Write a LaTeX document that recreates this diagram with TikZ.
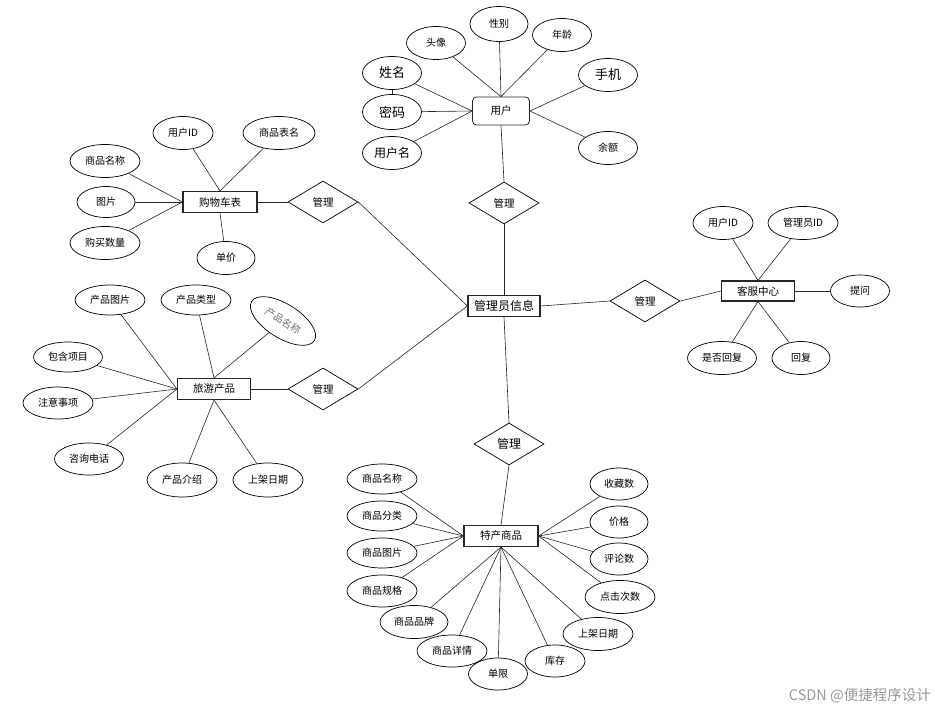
\documentclass[tikz,border=0pt]{standalone}
\usepackage{fontspec}
\newfontfamily\cjk{Noto Sans CJK SC}
\usetikzlibrary{shapes.geometric}
\tikzset{
  attr/.style={ellipse, draw=black, line width=0.7pt, minimum width=59pt, minimum height=33pt, inner sep=0pt, font=\cjk\fontsize{10}{12}\selectfont},
  wattr/.style={attr, minimum width=70pt},
  ent/.style={rectangle, draw=black!85, line width=1.1pt, minimum height=21pt, inner sep=0pt, font=\cjk\fontsize{10.5}{12}\selectfont},
  rel/.style={diamond, draw=black, line width=0.7pt, aspect=1.7, minimum width=70pt, minimum height=42pt, inner sep=0pt, font=\cjk\fontsize{10.5}{12}\selectfont},
  con/.style={draw=black!85, line width=0.6pt}
}
\begin{document}
\begin{tikzpicture}[x=1pt,y=-1pt]
\useasboundingbox[fill=white] (0,0) rectangle (935,712);

% ---------- center ----------
\node[ent, minimum width=72pt, line width=1.2pt, font=\cjk\fontsize{12}{14}\selectfont] (admin) at (504,306) {管理员信息};
\node[rel] (dtop) at (504,203) {管理};
\node[rel] (dcart) at (323,202) {管理};
\node[rel] (dtrav) at (323,389) {管理};
\node[rel, font=\cjk\fontsize{12}{14}\selectfont] (dbot) at (509,444) {管理};
\node[rel] (dsvc) at (645,301) {管理};

% ---------- user ----------
\node[ent, rounded corners=4pt, minimum width=57pt, minimum height=28pt, line width=0.8pt] (user) at (501,111) {用户};
\node[attr, minimum width=58pt, minimum height=35pt] (xb) at (499,24) {性别};
\node[attr] (tx) at (436,43) {头像};
\node[attr] (nl) at (562,35) {年龄};
\node[attr, font=\cjk\fontsize{13}{15}\selectfont] (xm) at (392,73) {姓名};
\node[attr, minimum height=35pt, font=\cjk\fontsize{13}{15}\selectfont] (mm) at (392,112) {密码};
\node[attr, font=\cjk\fontsize{12}{14}\selectfont] (yhm) at (392,153) {用户名};
\node[attr, font=\cjk\fontsize{13}{15}\selectfont] (sj) at (608,75) {手机};
\node[attr] (ye) at (608,148) {余额};
\draw[con] (tx) -- (user.north);
\draw[con] (xb) -- (user.north);
\draw[con] (nl) -- (user.north);
\draw[con] (xm) -- (user.west);
\draw[con] (mm) -- (user.west);
\draw[con] (yhm) -- (user.west);
\draw[con] (xm) -- (mm);
\draw[con] (sj) -- (user.east);
\draw[con] (ye) -- (user.east);
\draw[con] (user.south) -- (dtop.north);

% ---------- cart ----------
\node[ent, minimum width=74pt] (cart) at (220,202) {购物车表};
\node[attr, minimum width=60pt] (cuid) at (183,133) {用户ID};
\node[attr, minimum width=72pt] (cbm) at (279,133) {商品表名};
\node[wattr] (cmc) at (105,161) {商品名称};
\node[attr, minimum width=58pt, minimum height=31pt] (ctp) at (106,202) {图片};
\node[wattr] (csl) at (105,243) {购买数量};
\node[attr, minimum width=58pt] (cdj) at (226,258) {单价};
\draw[con] (cuid) -- (cart.north);
\draw[con] (cbm) -- (cart.north);
\draw[con] (cmc) -- (cart.west);
\draw[con] (ctp) -- (cart.west);
\draw[con] (csl) -- (cart.west);
\draw[con] (cart.south) -- (cdj);
\draw[con] (cart.east) -- (dcart.west);

% ---------- travel ----------
\node[ent, minimum width=73pt] (trav) at (214,389) {旅游产品};
\node[wattr, minimum height=30pt] (ttp) at (110,300) {产品图片};
\node[wattr, minimum height=30pt] (tlx) at (196,300) {产品类型};
\node[wattr, minimum width=74pt, minimum height=34pt, rotate=-32, text=black!55] (tmc) at (283,321) {产品名称};
\node[wattr, minimum width=69pt, minimum height=30pt] (tbh) at (68,357) {包含项目};
\node[wattr, minimum height=32pt] (tzy) at (58,403) {注意事项};
\node[wattr, minimum width=69pt, minimum height=32pt] (tzx) at (89,459) {咨询电话};
\node[wattr, minimum height=34pt] (tjs) at (182,480) {产品介绍};
\node[wattr, minimum height=34pt] (trq) at (268,480) {上架日期};
\draw[con] (ttp) -- (trav.west);
\draw[con] (tlx) -- (trav.north);
\draw[con] (tmc) -- (trav.north);
\draw[con] (tbh) -- (trav.west);
\draw[con] (tzy) -- (trav.west);
\draw[con] (tzx) -- (trav.west);
\draw[con] (tjs) -- (trav.south);
\draw[con] (trq) -- (trav.south);
\draw[con] (trav.east) -- (dtrav.west);

% ---------- service ----------
\node[ent, minimum width=73pt, minimum height=20pt] (svc) at (758,291) {客服中心};
\node[attr, minimum width=60pt] (suid) at (723,223) {用户ID};
\node[wattr] (said) at (803,223) {管理员ID};
\node[attr, minimum height=32pt] (stw) at (860,291) {提问};
\node[attr, minimum width=69pt] (ssf) at (722,358) {是否回复};
\node[attr, minimum width=58pt] (shf) at (801,358) {回复};
\draw[con] (suid) -- (svc.north);
\draw[con] (said) -- (svc.north);
\draw[con] (stw) -- (svc.east);
\draw[con] (ssf) -- (svc.south);
\draw[con] (shf) -- (svc.south);
\draw[con] (dsvc.east) -- (svc.west);

% ---------- specialty ----------
\node[ent, minimum width=74pt] (spec) at (501,536) {特产商品};
\node[wattr, minimum height=30pt] (pmc) at (382,479) {商品名称};
\node[wattr, minimum height=30pt] (pfl) at (382,516) {商品分类};
\node[wattr, minimum height=30pt] (ptp) at (382,553) {商品图片};
\node[wattr, minimum height=32pt] (pgg) at (382,591) {商品规格};
\node[attr, minimum width=68pt] (ppp) at (414,622) {商品品牌};
\node[wattr, minimum height=32pt] (pxq) at (452,651) {商品详情};
\node[attr, minimum height=32pt] (pdx) at (498,674) {单限};
\node[attr, minimum width=60pt, minimum height=32pt] (pkc) at (555,661) {库存};
\node[wattr] (prq) at (598,634) {上架日期};
\node[wattr] (pdj) at (620,597) {点击次数};
\node[attr, minimum width=58pt, minimum height=32pt] (ppl) at (619,559) {评论数};
\node[attr, minimum width=58pt, minimum height=32pt] (pjg) at (619,522) {价格};
\node[attr, minimum width=58pt, minimum height=32pt] (psc) at (619,484) {收藏数};
\draw[con] (pmc) -- (spec.west);
\draw[con] (pfl) -- (spec.west);
\draw[con] (ptp) -- (spec.west);
\draw[con] (pgg) -- (spec.west);
\draw[con] (ppp) -- (spec.south);
\draw[con] (pxq) -- (spec.south);
\draw[con] (pdx) -- (spec.south);
\draw[con] (pkc) -- (spec.south);
\draw[con] (prq) -- (spec.south);
\draw[con] (pdj) -- (spec.east);
\draw[con] (ppl) -- (spec.east);
\draw[con] (pjg) -- (spec.east);
\draw[con] (psc) -- (spec.east);
\draw[con] (dbot.south) -- (spec.north);

% ---------- relations to admin ----------
\draw[con] (dcart.east) -- (admin.west);
\draw[con] (dtrav.east) -- (admin.west);
\draw[con] (dtop.south) -- (admin.north);
\draw[con] (admin.south) -- (dbot.north);
\draw[con] (admin.east) -- (dsvc.west);

% ---------- watermark ----------
\node[anchor=east, text=black!40, font=\cjk\fontsize{14.5}{16}\selectfont, inner sep=0pt] (wm) at (931,696) {CSDN @便捷程序设计};
\end{tikzpicture}
\end{document}
